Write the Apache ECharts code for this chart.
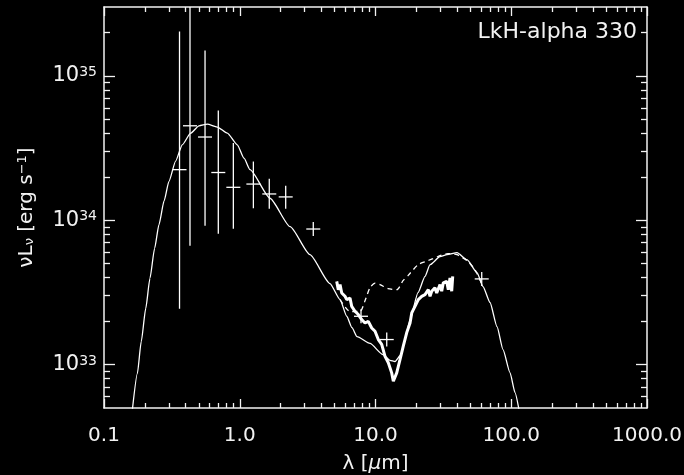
<!DOCTYPE html>
<html>
<head>
<meta charset="utf-8">
<script src="https://cdn.jsdelivr.net/npm/echarts@6/dist/echarts.min.js"></script>
<style>
html,body{margin:0;padding:0;background:#000;}
#c{width:684px;height:475px;}
</style>
</head>
<body>
<div id="c"></div>
<script>
// ---- data (wavelength in micron, nuL_nu in erg/s) ----
const modelLam = [0.162,0.176,0.188,0.203,0.218,0.236,0.254,0.277,0.301,0.337,0.377,0.435,0.501,0.577,0.683,0.810,0.959,1.075,1.19,1.67,2.35,3.29,4.62,5.48,6.14,6.71,7.31,9.11,11.36,12.79,13.92,15.42,16.49,17.97,20.57,23.16,25.22,29.87,33.63,39.85,47.21,55.94,61.94,69.77,78.55,86.97,97.9,106.6,114.0];
const modelLum = [4.9e32,8.64e32,1.44e33,2.45e33,3.96e33,6.39e33,9.32e33,1.36e34,1.86e34,2.57e34,3.33e34,4.01e34,4.51e34,4.63e34,4.42e34,4.01e34,3.33e34,2.69e34,2.24e34,1.42e34,9.02e33,5.77e33,3.64e33,2.82e33,2.16e33,1.80e33,1.56e33,1.40e33,1.17e33,1.07e33,1.05e33,1.17e33,1.49e33,2.05e33,3.15e33,4.08e33,4.92e33,5.59e33,5.77e33,5.96e33,5.33e33,4.33e33,3.47e33,2.69e33,1.83e33,1.27e33,8.80e32,6.40e32,4.88e32];

const dashLam = [5.48,6.49,7.69,8.37,9.11,9.92,10.79,12.37,14.40,15.94,17.36,20.57,23.16,26.52,29.87,34.20,39.85,47.21,54.08,61.94];
const dashLum = [2.82e33,2.33e33,2.33e33,2.77e33,3.41e33,3.66e33,3.58e33,3.36e33,3.30e33,3.81e33,4.13e33,4.92e33,5.16e33,5.41e33,5.68e33,5.87e33,5.77e33,5.25e33,4.54e33,3.47e33];

const irsLam = [5.18,5.32,5.48,5.64,5.96,6.14,6.49,6.68,7.06,7.47,7.91,8.37,8.85,9.38,9.92,10.49,11.11,11.75,12.43,13.16,13.53,14.33,15.15,16.02,16.97,17.97,18.49,19.54,20.67,21.90,23.16,24.49,25.22,25.94,27.42,28.23,29.87,30.74,31.58,33.46,34.38,35.39,36.42,37.05];
const irsLum = [3.77e33,3.30e33,3.58e33,3.13e33,2.97e33,2.82e33,2.89e33,2.53e33,2.34e33,2.22e33,2.05e33,1.94e33,1.99e33,1.79e33,1.70e33,1.49e33,1.38e33,1.14e33,1.03e33,8.76e32,7.66e32,8.76e32,1.08e33,1.34e33,1.66e33,1.94e33,2.28e33,2.53e33,2.82e33,2.97e33,3.05e33,3.30e33,2.97e33,3.22e33,3.40e33,3.13e33,3.58e33,3.22e33,3.68e33,3.77e33,3.30e33,3.98e33,3.22e33,4.08e33];

const photLam = [0.36,0.43,0.555,0.695,0.897,1.26,1.65,2.18,3.48,7.82,12.1,60.6];
const photLum = [2.24e34,4.51e34,3.77e34,2.14e34,1.69e34,1.78e34,1.52e34,1.45e34,8.69e33,2.16e33,1.49e33,3.92e33];
const photLo  = [2.44e33,6.66e33,9.16e33,8.07e33,8.73e33,1.21e34,1.20e34,1.20e34,8.69e33,2.16e33,1.49e33,3.92e33];
const photHi  = [2.03e35,6.0e35,1.50e35,5.75e34,3.43e34,2.55e34,1.94e34,1.73e34,8.69e33,2.16e33,1.49e33,3.92e33];

const xMajor = [0.1,1,10,100,1000];
const xMinor = [0.2,0.3,0.4,0.5,0.6,0.7,0.8,0.9,2,3,4,5,6,7,8,9,20,30,40,50,60,70,80,90,200,300,400,500,600,700,800,900];
const yMajor = [1e33,1e34,1e35];
const yMinor = [6e32,7e32,8e32,9e32,2e33,3e33,4e33,5e33,6e33,7e33,8e33,9e33,2e34,3e34,4e34,5e34,6e34,7e34,8e34,9e34,2e35];

const xMin = 0.1, xMax = 1000, yMin = 5e32, yMax = 3e35;
const titleText = 'LkH-alpha 330';

// ---- build ----
const zip = (a, b) => a.map((v, i) => [v, b[i]]);
const FONT = 'DejaVu Sans';
const FG = '#f2f2f2';

function xAx(pos, major, showLine, showLabel) {
  return {
    type: 'log', logBase: 10, min: xMin, max: xMax, position: pos,
    axisLine: { show: showLine, lineStyle: { color: FG, width: 1.5 } },
    splitLine: { show: false },
    axisTick: { show: true, inside: true, length: major ? 9 : 5,
      customValues: major ? xMajor : xMinor, lineStyle: { color: FG, width: 1.3 } },
    axisLabel: showLabel ? {
      show: true, customValues: xMajor, margin: 18, color: FG,
      fontFamily: FONT, fontSize: 20,
      formatter: v => Number(v).toFixed(1)
    } : { show: false },
    name: showLabel ? '{a|λ [}{m|μ}{a|m]}' : '',
    nameLocation: 'middle', nameGap: 56,
    nameTextStyle: { color: FG, verticalAlign: 'middle',
      rich: { a: { fontFamily: FONT, fontSize: 20, color: FG },
              m: { fontFamily: FONT, fontSize: 20, color: FG, fontStyle: 'italic' } } }
  };
}
function yAx(pos, major, showLine, showLabel) {
  return {
    type: 'log', logBase: 10, min: yMin, max: yMax, position: pos,
    axisLine: { show: showLine, lineStyle: { color: FG, width: 1.5 } },
    splitLine: { show: false },
    axisTick: { show: true, inside: true, length: major ? 11 : 6,
      customValues: major ? yMajor : yMinor, lineStyle: { color: FG, width: 1.3 } },
    axisLabel: showLabel ? {
      show: true, customValues: yMajor, margin: 7, color: FG,
      formatter: v => '{b|10}{s|' + Math.round(Math.log10(v)) + '}',
      rich: {
        b: { fontFamily: FONT, fontSize: 21, lineHeight: 21, verticalAlign: 'bottom', color: FG },
        s: { fontFamily: FONT, fontSize: 14, lineHeight: 14, verticalAlign: 'top', padding: [0, 0, 10, 0], color: FG }
      }
    } : { show: false },
    name: showLabel ? '{a|ν}{a|L}{sub|ν}{a| [erg s}{sup|−1}{a|]}' : '',
    nameLocation: 'middle', nameGap: 77, nameRotate: 90,
    nameTextStyle: { color: FG, verticalAlign: 'middle',
      rich: {
        a: { fontFamily: FONT, fontSize: 20, lineHeight: 20, verticalAlign: 'bottom', color: FG },
        sub: { fontFamily: FONT, fontSize: 13, lineHeight: 13, verticalAlign: 'bottom', color: FG },
        sup: { fontFamily: FONT, fontSize: 13, lineHeight: 13, verticalAlign: 'top', padding: [0, 0, 12, 0], color: FG }
      } }
  };
}

const chart = echarts.init(document.getElementById('c'), null, { renderer: 'canvas' });
chart.setOption({
  backgroundColor: '#000',
  animation: false,
  grid: { left: 104, top: 7, width: 543, height: 401, containLabel: false, outerBoundsMode: 'none' },
  xAxis: [xAx('bottom', true, true, true), xAx('bottom', false, false, false),
          xAx('top', true, true, false), xAx('top', false, false, false)],
  yAxis: [yAx('left', true, true, true), yAx('left', false, false, false),
          yAx('right', true, true, false), yAx('right', false, false, false)],
  graphic: [{
    type: 'text', right: 47, top: 21,
    style: { text: titleText, fill: FG, font: '22px "DejaVu Sans"' }
  }],
  series: [
    { type: 'line', data: zip(modelLam, modelLum), showSymbol: false, smooth: 0.2, smoothMonotone: 'x',
      clip: true, lineStyle: { color: '#fff', width: 1.3 } },
    { type: 'line', data: zip(dashLam, dashLum), showSymbol: false, smooth: 0.2,
      clip: true, lineStyle: { color: '#fff', width: 1.3, type: [5, 4] } },
    { type: 'line', data: zip(irsLam, irsLum), showSymbol: false,
      clip: true, lineStyle: { color: '#fff', width: 3 } },
    { type: 'custom', clip: true,
      data: photLam.map((l, i) => [l, photLum[i], photLo[i], photHi[i]]),
      renderItem: function (params, api) {
        const cs = params.coordSys;
        const c = api.coord([api.value(0), api.value(1)]);
        const lo = api.coord([api.value(0), api.value(2)]);
        const hi = api.coord([api.value(0), api.value(3)]);
        const arm = 7;
        const top = Math.max(cs.y, Math.min(hi[1], c[1] - arm));
        const bot = Math.min(cs.y + cs.height, Math.max(lo[1], c[1] + arm));
        const st = { stroke: '#fff', lineWidth: 1.3 };
        return { type: 'group', children: [
          { type: 'line', shape: { x1: c[0] - arm, y1: c[1], x2: c[0] + arm, y2: c[1] }, style: st },
          { type: 'line', shape: { x1: c[0], y1: top, x2: c[0], y2: bot }, style: st }
        ] };
      }
    }
  ]
});
</script>
</body>
</html>
